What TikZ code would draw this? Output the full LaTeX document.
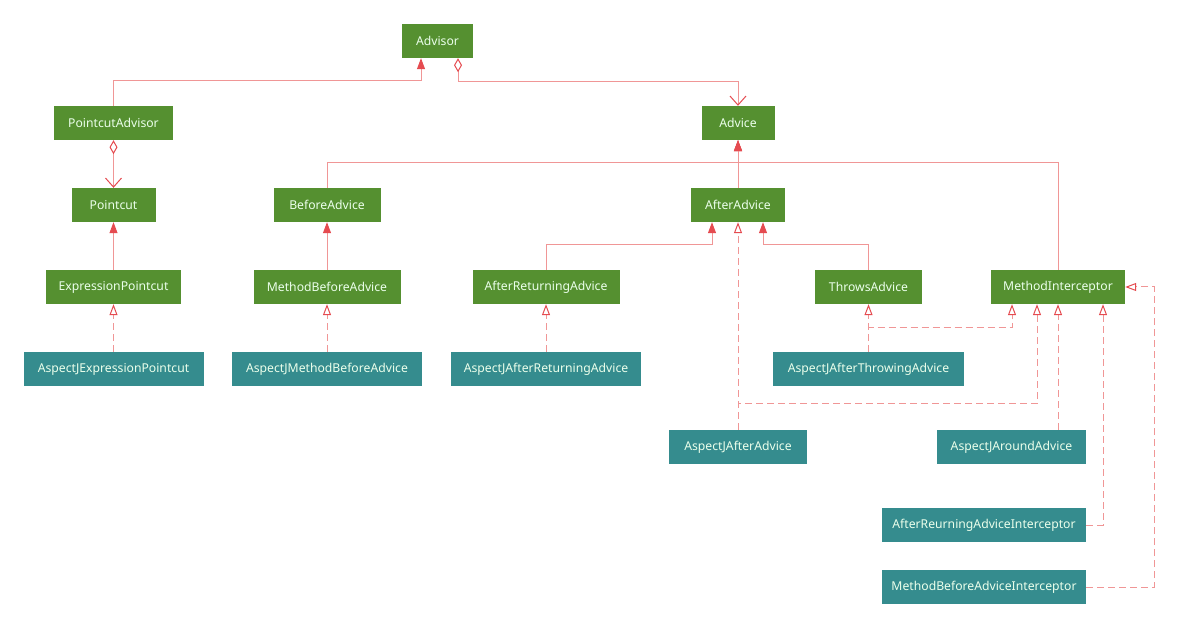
\documentclass[tikz,border=0pt]{standalone}
\usepackage{fontspec}
\setmainfont{Noto Sans}
\usetikzlibrary{arrows.meta}
\definecolor{ifgreen}{RGB}{85,144,48}
\definecolor{impteal}{RGB}{53,140,142}
\definecolor{linkred}{RGB}{240,150,150}
\definecolor{tipred}{RGB}{229,75,80}

\begin{document}
\begin{tikzpicture}
		[x=1pt,y=-1pt,
		box/.style={minimum height=34pt,inner sep=0pt,text=white!92!green,font=\fontsize{12.2}{14}\selectfont},
		iface/.style={box,fill=ifgreen},
		impl/.style={box,fill=impteal},
		ext/.style={draw=linkred,line width=1pt,-{Triangle[length=11pt,width=8pt,color=tipred]}},
		real/.style={draw=linkred,line width=1pt,dash pattern=on 7pt off 4pt,-{Triangle[open,length=11pt,width=8pt,color=tipred]}},
		has/.style={draw=linkred,line width=1pt,{Diamond[open,length=14pt,width=8pt,color=tipred]}-{Straight Barb[length=9pt,width=16pt,color=tipred]}}]
		\useasboundingbox[fill=white] (0,0) rectangle (1178,628);

		\node[iface,minimum width=71pt] (n1) at (437.5,41) {Advisor};
		\node[iface,minimum width=119pt] (n2) at (113.5,123) {PointcutAdvisor};
		\node[iface,minimum width=73pt] (n3) at (738,123) {Advice};
		\node[iface,minimum width=84pt] (n4) at (113.5,205) {Pointcut};
		\node[iface,minimum width=107pt] (n5) at (327,205) {BeforeAdvice};
		\node[iface,minimum width=94pt] (n6) at (738,205) {AfterAdvice};
		\node[iface,minimum width=135pt] (n7) at (113.5,287) {ExpressionPointcut};
		\node[iface,minimum width=147pt] (n8) at (327,287) {MethodBeforeAdvice};
		\node[iface,minimum width=147pt] (n9) at (546,287) {AfterReturningAdvice};
		\node[iface,minimum width=107pt] (n10) at (868.5,287) {ThrowsAdvice};
		\node[iface,minimum width=134pt] (n11) at (1058,287) {MethodInterceptor};
		\node[impl,minimum width=180pt] (n12) at (113.5,369) {AspectJExpressionPointcut};
		\node[impl,minimum width=190pt] (n13) at (327,369) {AspectJMethodBeforeAdvice};
		\node[impl,minimum width=190pt] (n14) at (546,369) {AspectJAfterReturningAdvice};
		\node[impl,minimum width=191pt] (n15) at (868.5,369) {AspectJAfterThrowingAdvice};
		\node[impl,minimum width=138pt] (n16) at (738,447) {AspectJAfterAdvice};
		\node[impl,minimum width=149pt] (n17) at (1011.5,447) {AspectJAroundAdvice};
		\node[impl,minimum width=204pt] (n18) at (984,525) {AfterReurningAdviceInterceptor};
		\node[impl,minimum width=204pt] (n19) at (984,587) {MethodBeforeAdviceInterceptor};

		\draw[ext] (n2.north) -- ++(0,-25) -| ([xshift=-16.5pt]n1.south);
		\draw[has] ([xshift=20.5pt]n1.south) -- ++(0,23) -| (n3.north);
		\draw[has] (n2.south) -- (n4.north);
		\draw[ext] (n7.north) -- (n4.south);
		\draw[real] (n12.north) -- (n7.south);
		\draw[ext] (n5.north) -- ++(0,-25) -| (n3.south);
		\draw[ext] (n6.north) -- (n3.south);
		\draw[ext] (n11.north) -- ++(0,-107) -| (n3.south);
		\draw[ext] (n8.north) -- (n5.south);
		\draw[real] (n13.north) -- (n8.south);
		\draw[ext] (n9.north) -- ++(0,-25) -| ([xshift=-26pt]n6.south);
		\draw[ext] (n10.north) -- ++(0,-25) -| ([xshift=25pt]n6.south);
		\draw[real] (n14.north) -- (n9.south);
		\draw[real] (n16.north) -- (n6.south);
		\draw[real] (n16.north) -- ++(0,-26) -| ([xshift=-21pt]n11.south);
		\draw[real] (n15.north) -- (n10.south);
		\draw[real] (n15.north) -- ++(0,-24) -| ([xshift=-46pt]n11.south);
		\draw[real] ([xshift=46.5pt]n17.north) -- (n11.south);
		\draw[real] (n18.east) -| ([xshift=45pt]n11.south);
		\draw[real] (n19.east) -- ++(68,0) |- (n11.east);

	\end{tikzpicture}
\end{document}
